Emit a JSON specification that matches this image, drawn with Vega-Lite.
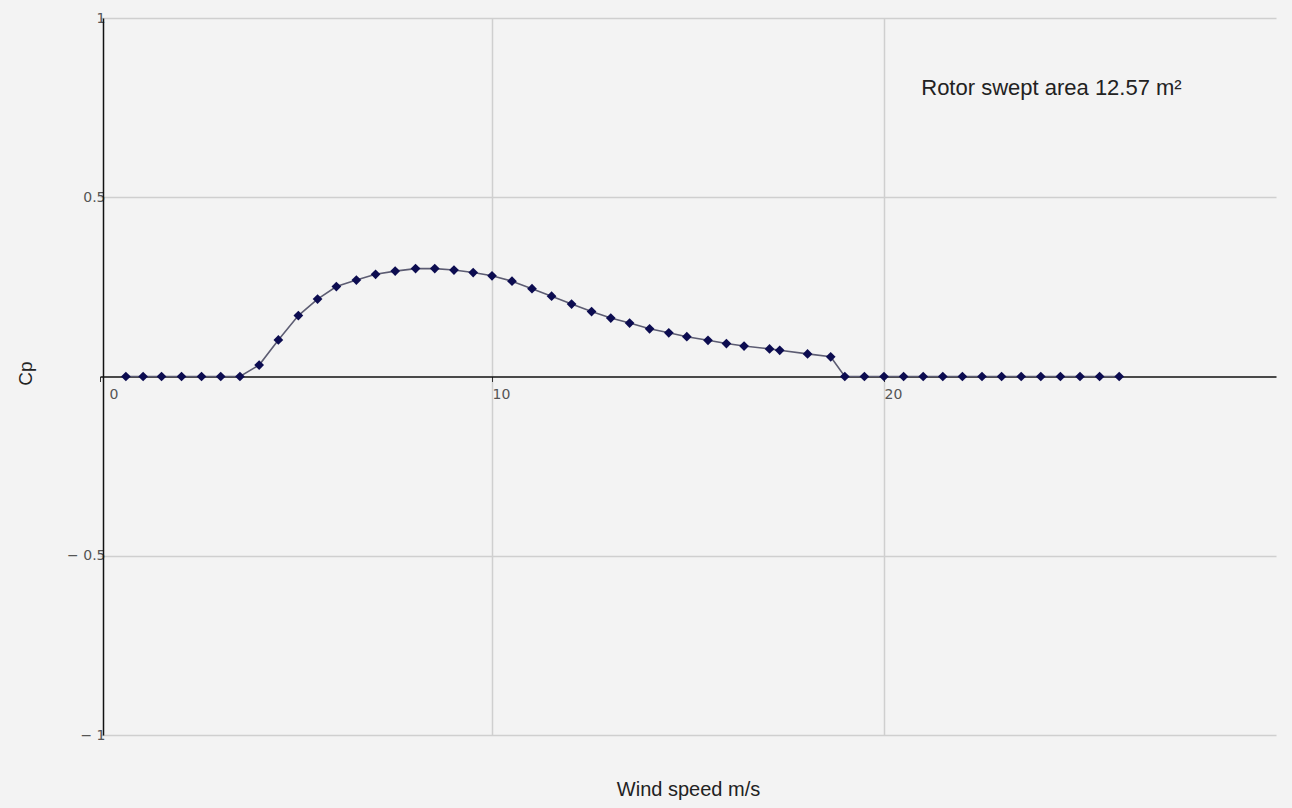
{
  "$schema": "https://vega.github.io/schema/vega-lite/v6.json",
  "width": 1176,
  "height": 717,
  "autosize": {"type": "none"},
  "padding": {"left": 100, "top": 18, "right": 16, "bottom": 73},
  "background": "#f3f3f3",
  "config": {
    "view": {"stroke": null},
    "font": "Liberation Sans"
  },
  "layer": [
    {
      "data": {
        "values": [
          {"speed": 0.66, "cp": 0}, {"speed": 1.1, "cp": 0}, {"speed": 1.57, "cp": 0}, {"speed": 2.08, "cp": 0},
          {"speed": 2.59, "cp": 0}, {"speed": 3.08, "cp": 0}, {"speed": 3.57, "cp": 0},
          {"speed": 4.06, "cp": 0.032}, {"speed": 4.55, "cp": 0.102}, {"speed": 5.06, "cp": 0.170},
          {"speed": 5.55, "cp": 0.216}, {"speed": 6.03, "cp": 0.251}, {"speed": 6.54, "cp": 0.269},
          {"speed": 7.03, "cp": 0.285}, {"speed": 7.53, "cp": 0.294}, {"speed": 8.05, "cp": 0.301},
          {"speed": 8.54, "cp": 0.301}, {"speed": 9.03, "cp": 0.297}, {"speed": 9.52, "cp": 0.290},
          {"speed": 10.0, "cp": 0.281}, {"speed": 10.51, "cp": 0.266}, {"speed": 11.02, "cp": 0.245},
          {"speed": 11.52, "cp": 0.224}, {"speed": 12.03, "cp": 0.202}, {"speed": 12.54, "cp": 0.181},
          {"speed": 13.03, "cp": 0.163}, {"speed": 13.51, "cp": 0.149}, {"speed": 14.02, "cp": 0.133},
          {"speed": 14.51, "cp": 0.122}, {"speed": 14.97, "cp": 0.111}, {"speed": 15.51, "cp": 0.101},
          {"speed": 15.98, "cp": 0.092}, {"speed": 16.43, "cp": 0.085}, {"speed": 17.08, "cp": 0.077},
          {"speed": 17.34, "cp": 0.073}, {"speed": 18.05, "cp": 0.063}, {"speed": 18.64, "cp": 0.055},
          {"speed": 19.0, "cp": 0}, {"speed": 19.5, "cp": 0}, {"speed": 20.0, "cp": 0}, {"speed": 20.5, "cp": 0},
          {"speed": 21.0, "cp": 0}, {"speed": 21.5, "cp": 0}, {"speed": 22.0, "cp": 0}, {"speed": 22.5, "cp": 0},
          {"speed": 23.0, "cp": 0}, {"speed": 23.5, "cp": 0}, {"speed": 24.0, "cp": 0}, {"speed": 24.5, "cp": 0},
          {"speed": 25.0, "cp": 0}, {"speed": 25.5, "cp": 0}, {"speed": 26.0, "cp": 0}
        ]
      },
      "layer": [
        {
          "mark": {"type": "line", "stroke": "#5c5c72", "strokeWidth": 1.6},
          "encoding": {
            "x": {
              "field": "speed", "type": "quantitative",
              "scale": {"domain": [0, 30], "nice": false, "zero": false},
              "axis": {
                "values": [0, 10, 20, 30],
                "offset": -358.5,
                "domain": true, "domainColor": "#111111", "domainWidth": 1.5,
                "ticks": true, "tickSize": 5, "tickColor": "#333333",
                "tickOpacity": {"condition": {"test": "datum.value == 30", "value": 0}, "value": 1},
                "grid": true, "gridColor": "#cfcfcf", "gridWidth": 1.5,
                "gridOpacity": {"condition": {"test": "datum.value == 30 || datum.value == 0", "value": 0}, "value": 1},
                "labelExpr": "datum.value == 30 ? '' : datum.label",
                "labelOffset": {"condition": {"test": "datum.value == 0", "value": 9}, "value": 0},
                "labelAlign": "left", "labelDx": -2, "labelPadding": 6,
                "labelFont": "DejaVu Sans", "labelFontSize": 14, "labelColor": "#555555",
                "title": "Wind speed m/s",
                "titleFont": "Liberation Sans", "titleFontSize": 20, "titleFontWeight": "normal",
                "titleColor": "#222222", "titleBaseline": "middle", "titleY": 413
              }
            },
            "y": {
              "field": "cp", "type": "quantitative",
              "scale": {"domain": [-1, 1], "nice": false},
              "axis": {
                "values": [-1, -0.5, 0.5, 1],
                "offset": -3,
                "domain": true, "domainColor": "#111111", "domainWidth": 1.5,
                "ticks": false,
                "grid": true, "gridColor": "#cfcfcf", "gridWidth": 1.5,
                "labelExpr": "datum.value < 0 ? '\u2212 ' + format(-datum.value, '') : format(datum.value, '')",
                "labelPadding": -2,
                "labelFont": "DejaVu Sans", "labelFontSize": 14, "labelColor": "#555555",
                "title": "Cp",
                "titleFont": "Liberation Sans", "titleFontSize": 19, "titleFontWeight": "normal",
                "titleColor": "#222222", "titleAlign": "center", "titleBaseline": "middle",
                "titleX": -78, "titleY": 355
              }
            }
          }
        },
        {
          "mark": {"type": "point", "shape": "diamond", "filled": true, "size": 95, "color": "#0c0c50", "opacity": 1},
          "encoding": {
            "x": {"field": "speed", "type": "quantitative"},
            "y": {"field": "cp", "type": "quantitative"}
          }
        }
      ]
    },
    {
      "data": {"values": [{"speed": 20.95, "cp": 0.805, "label": "Rotor swept area 12.57 m\u00b2"}]},
      "mark": {"type": "text", "align": "left", "baseline": "middle", "font": "Liberation Sans", "fontSize": 22, "color": "#222222"},
      "encoding": {
        "x": {"field": "speed", "type": "quantitative"},
        "y": {"field": "cp", "type": "quantitative"},
        "text": {"field": "label"}
      }
    }
  ]
}
